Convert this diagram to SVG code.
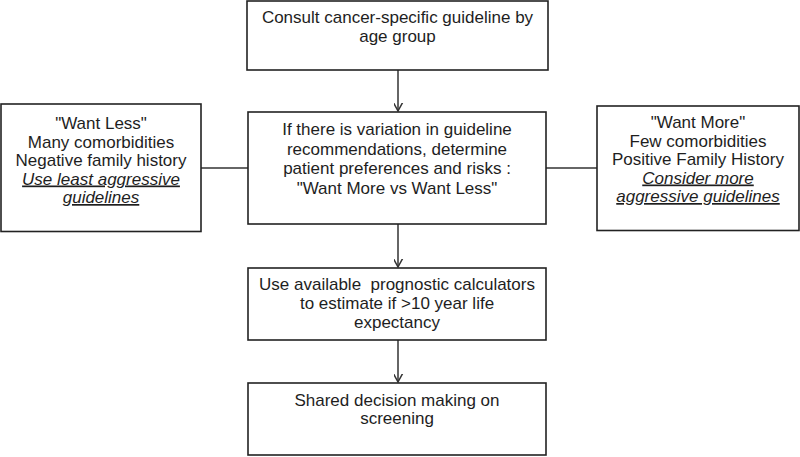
<svg xmlns="http://www.w3.org/2000/svg" width="800" height="457" viewBox="0 0 800 457">
<style>
.box{fill:#fff;stroke:#222;stroke-width:1.6}
.t{font-family:"Liberation Sans",Arial,sans-serif;font-size:17px;fill:#1e1e1e;text-anchor:middle}
.u{font-style:italic;text-decoration:underline}
.c{stroke:#333;stroke-width:1.5;fill:none}
</style>
<defs>
<marker id="arr" markerUnits="userSpaceOnUse" markerWidth="16" markerHeight="16" viewBox="-8 -12 16 16" refX="0" refY="0" orient="auto-start-reverse">
<polyline points="-6,-11 0,0 6,-11" fill="none" stroke="#333" stroke-width="1.5" transform="rotate(-90)"/>
</marker>
</defs>
<rect width="800" height="457" fill="#fff"/>
<g id="connectors">
<line class="c" x1="398" y1="70" x2="398" y2="111" marker-end="url(#arr)"/>
<line class="c" x1="398" y1="224" x2="398" y2="267" marker-end="url(#arr)"/>
<line class="c" x1="398" y1="340" x2="398" y2="382" marker-end="url(#arr)"/>
<line class="c" x1="201" y1="168" x2="248" y2="168"/>
<line class="c" x1="546" y1="168" x2="597" y2="168"/>
</g>
<g id="n1">
<rect class="box" x="247" y="1" width="301" height="69"/>
<text class="t" x="397.5" y="23">Consult cancer-specific guideline by</text>
<text class="t" x="397.5" y="42">age group</text>
</g>
<g id="n2">
<rect class="box" x="248" y="112" width="298" height="112"/>
<text class="t" x="397" y="135">If there is variation in guideline</text>
<text class="t" x="397" y="154.5">recommendations, determine</text>
<text class="t" x="397" y="174">patient preferences and risks :</text>
<text class="t" x="397" y="193.5">"Want More vs Want Less"</text>
</g>
<g id="n3">
<rect class="box" x="1" y="104" width="200" height="127.5"/>
<text class="t" x="101" y="129">"Want Less"</text>
<text class="t" x="101" y="147.5">Many comorbidities</text>
<text class="t" x="101" y="166">Negative family history</text>
<text class="t u" x="101" y="184.5">Use least aggressive</text>
<text class="t u" x="101" y="203">guidelines</text>
</g>
<g id="n4">
<rect class="box" x="597" y="106" width="202" height="124.5"/>
<text class="t" x="698" y="128">"Want More"</text>
<text class="t" x="698" y="146.5">Few comorbidities</text>
<text class="t" x="698" y="165">Positive Family History</text>
<text class="t u" x="698" y="183.5">Consider more</text>
<text class="t u" x="698" y="202">aggressive guidelines</text>
</g>
<g id="n5">
<rect class="box" x="248" y="268" width="298" height="72"/>
<text class="t" x="397" y="290" xml:space="preserve">Use available  prognostic calculators</text>
<text class="t" x="397" y="309">to estimate if &gt;10 year life</text>
<text class="t" x="397" y="327.5">expectancy</text>
</g>
<g id="n6">
<rect class="box" x="248" y="383" width="298" height="72"/>
<text class="t" x="397" y="405.5">Shared decision making on</text>
<text class="t" x="397" y="424">screening</text>
</g>
</svg>
